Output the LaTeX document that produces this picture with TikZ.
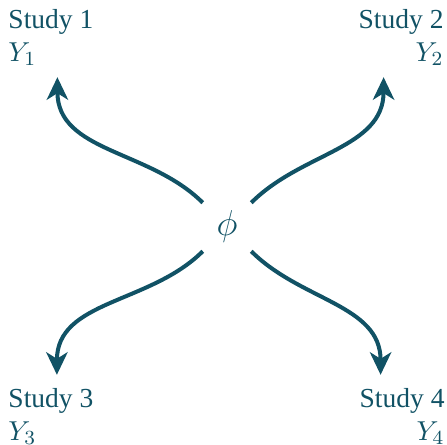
\documentclass[tikz,border=0pt]{standalone}
\usepackage{amsmath}
\usepackage{fontspec}
\setmainfont{Liberation Serif}
\usetikzlibrary{arrows.meta}
\definecolor{deepteal}{RGB}{17,82,101}

\begin{document}
\begin{tikzpicture}[x=0.4pt,y=0.4pt,yscale=-1,xscale=1,
    every node/.style={text=deepteal},
    studylbl/.style={inner sep=0pt, font=\fontsize{11}{13.2}\selectfont},
    flow/.style={draw=deepteal, line width=1.6pt, -{Stealth[length=9pt,width=8.5pt,inset=2.6pt]}}]
    \useasboundingbox (0,0) rectangle (447,445);

    % Text Node
    \node [minimum size=19pt, inner sep=0pt, font=\fontsize{14.4}{16}\selectfont] (phi) at (227,227) {$\phi$};
    % Text Node
    \node [studylbl, anchor=north west, align=left] (s1) at (8,9) {Study 1\\$Y_1$};
    % Text Node
    \node [studylbl, anchor=north east, align=right] (s2) at (444,9) {Study 2\\$Y_2$};
    % Text Node
    \node [studylbl, anchor=south west, align=left] (s3) at (8,445) {Study 3\\$Y_3$};
    % Text Node
    \node [studylbl, anchor=south east, align=right] (s4) at (445,445) {Study 4\\$Y_4$};

    %Curve Lines
    \draw [flow] (phi.north west) to [out=-135, in=90] ([xshift=2.6pt,yshift=4.4pt]s1.south);
    %Curve Lines
    \draw [flow] (phi.north east) to [out=-45, in=90] ([xshift=-7pt,yshift=4.4pt]s2.south);
    %Curve Lines
    \draw [flow] (phi.south west) to [out=135, in=-90] ([xshift=2.4pt,yshift=-5.2pt]s3.north);
    %Curve Lines
    \draw [flow] (phi.south east) to [out=45, in=-90] ([xshift=-8.6pt,yshift=-5.2pt]s4.north);

\end{tikzpicture}
\end{document}
